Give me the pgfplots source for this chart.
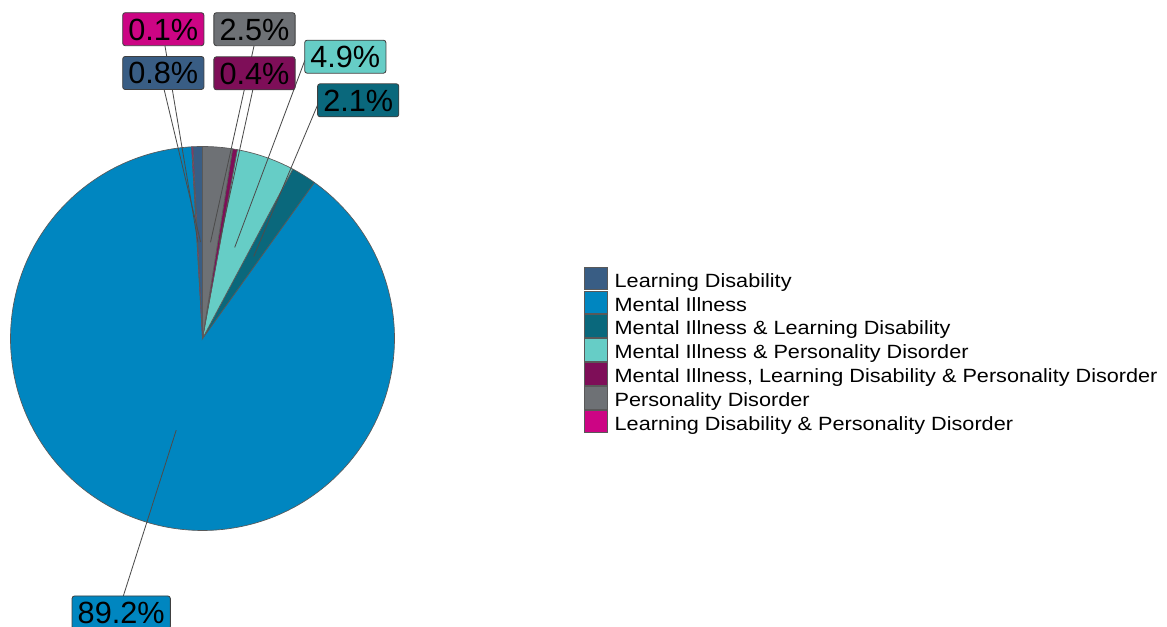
\documentclass[border=0pt]{standalone}
\usepackage{fontspec}
\setmainfont{Liberation Sans}
\newfontfamily\legfont[FakeStretch=1.13]{Liberation Sans}
\usepackage{pgfplots}
\pgfplotsset{compat=1.18}

\definecolor{cLD}{HTML}{395D84}
\definecolor{cMI}{HTML}{0086C0}
\definecolor{cMILD}{HTML}{0A687C}
\definecolor{cMIPD}{HTML}{66CDC6}
\definecolor{cMILDPD}{HTML}{7E0E58}
\definecolor{cPD}{HTML}{6E7175}
\definecolor{cLDPD}{HTML}{CC0584}

% Shares (%) and slice angles (degrees, clockwise from 12 o'clock)
% LD 0.8 | MI 89.2 | MI&LD 2.1 | MI&PD 4.9 | MI,LD&PD 0.4 | PD 2.5 | LD&PD 0.1

\newcommand\lp{\vphantom{Lg}}
\tikzset{lab/.style={draw=black!75, line width=0.5pt, rounded corners=1.5pt,
  font=\fontsize{18.4}{20}\selectfont, text=black, inner xsep=3.4pt, inner ysep=0pt,
  minimum height=19.8pt, text height=13.2pt, text depth=0pt, anchor=center},
  lead/.style={draw=black!70, line width=0.5pt}}

\begin{document}
\begin{tikzpicture}
\begin{axis}[
  width=700.2pt, height=376.2pt, scale only axis,
  xmin=0, xmax=1167, ymin=-627, ymax=0,
  hide axis, clip=false,
  legend style={at={(axis cs:584,-266.7)}, anchor=north west, draw=none, fill=none,
    inner sep=0pt, outer sep=0pt, row sep=-3.4pt, column sep=4.2pt,
    font=\legfont\fontsize{11.5}{13.8}\selectfont, nodes={inner sep=0pt}},
  legend cell align=left,
  legend image code/.code={\draw[#1, draw=black!65, line width=0.6pt] (0pt,-5.0pt) rectangle (13.6pt,8.6pt); \path (0pt,-8.6pt);},
]
% pie centre (202.5,-338.5), radius 192
\addplot[fill=cLD, draw=black!65, line width=0.4pt, domain=-267.12:-270, samples=6]
  ({202.5+192*cos(x)},{-338.5+192*sin(x)}) -- (axis cs:202.5,-338.5) -- cycle;
\addlegendentry{\lp Learning Disability}
\addplot[fill=cMI, draw=black!65, line width=0.4pt, domain=54.36:-266.76, samples=240]
  ({202.5+192*cos(x)},{-338.5+192*sin(x)}) -- (axis cs:202.5,-338.5) -- cycle;
\addlegendentry{\lp Mental Illness}
\addplot[fill=cMILD, draw=black!65, line width=0.4pt, domain=61.92:54.36, samples=10]
  ({202.5+192*cos(x)},{-338.5+192*sin(x)}) -- (axis cs:202.5,-338.5) -- cycle;
\addlegendentry{\lp Mental Illness \& Learning Disability}
\addplot[fill=cMIPD, draw=black!65, line width=0.4pt, domain=79.56:61.92, samples=20]
  ({202.5+192*cos(x)},{-338.5+192*sin(x)}) -- (axis cs:202.5,-338.5) -- cycle;
\addlegendentry{\lp Mental Illness \& Personality Disorder}
\addplot[fill=cMILDPD, draw=black!65, line width=0.4pt, domain=81:79.56, samples=4]
  ({202.5+192*cos(x)},{-338.5+192*sin(x)}) -- (axis cs:202.5,-338.5) -- cycle;
\addlegendentry{\lp Mental Illness, Learning Disability \& Personality Disorder}
\addplot[fill=cPD, draw=black!65, line width=0.4pt, domain=90:81, samples=10]
  ({202.5+192*cos(x)},{-338.5+192*sin(x)}) -- (axis cs:202.5,-338.5) -- cycle;
\addlegendentry{\lp Personality Disorder}
\addplot[fill=cLDPD, draw=black!65, line width=0.4pt, domain=-266.76:-267.12, samples=3]
  ({202.5+192*cos(x)},{-338.5+192*sin(x)}) -- (axis cs:202.5,-338.5) -- cycle;
\addlegendentry{\lp Learning Disability \& Personality Disorder}

% leader lines
\draw[lead] (axis cs:197.9,-242.1) -- (axis cs:165,-46);
\draw[lead] (axis cs:200.6,-242.0) -- (axis cs:164,-89);
\draw[lead] (axis cs:210.5,-242.3) -- (axis cs:254,-46);
\draw[lead] (axis cs:219.2,-243.4) -- (axis cs:253,-89);
\draw[lead] (axis cs:234.7,-247.4) -- (axis cs:305,-60);
\draw[lead] (axis cs:253.7,-256.5) -- (axis cs:318,-104);
\draw[lead] (axis cs:176.2,-430.2) -- (axis cs:123,-597);

% labels
\node[lab, fill=cLDPD] at (axis cs:163.3,-29.2) {0.1\%};
\node[lab, fill=cPD] at (axis cs:254.5,-29.2) {2.5\%};
\node[lab, fill=cLD] at (axis cs:163.3,-73.0) {0.8\%};
\node[lab, fill=cMILDPD] at (axis cs:254.5,-73.3) {0.4\%};
\node[lab, fill=cMIPD] at (axis cs:345.3,-56.7) {4.9\%};
\node[lab, fill=cMILD] at (axis cs:358.2,-100.3) {2.1\%};
\node[lab, fill=cMI] at (axis cs:121.2,-612.5) {89.2\%};
\end{axis}
\pgfresetboundingbox
\path[use as bounding box] (current axis.south west) rectangle (current axis.north east);
\end{tikzpicture}
\end{document}
